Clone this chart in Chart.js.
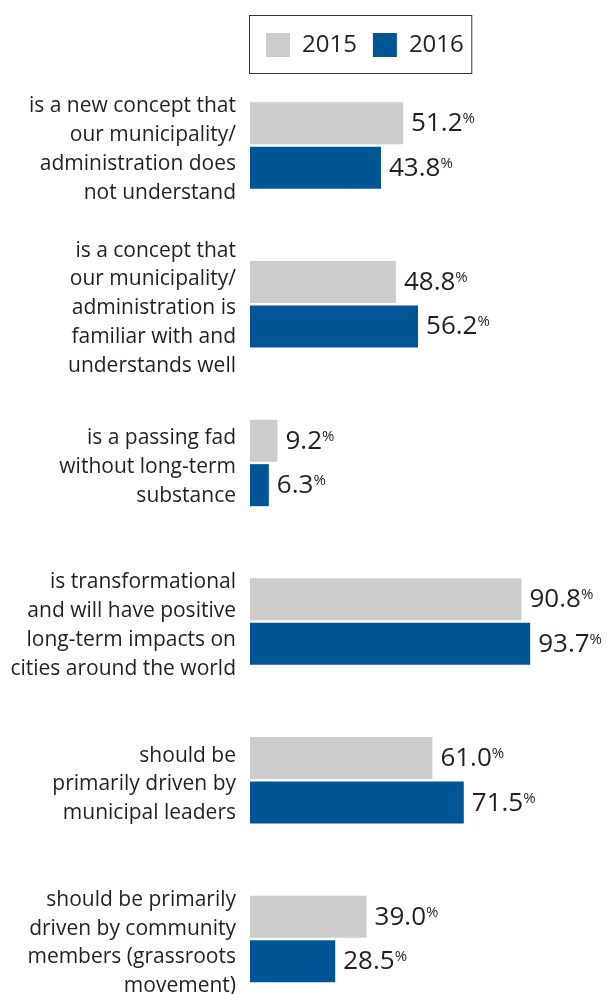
<!DOCTYPE html>
<html>
<head>
<meta charset="utf-8">
<script src="https://cdn.jsdelivr.net/npm/chart.js@4"></script>
<style>
  html, body { margin: 0; padding: 0; background: #fff; }
  #wrap { width: 607px; height: 994px; }
</style>
</head>
<body>
<div id="wrap"><canvas id="smartChart" width="607" height="994"></canvas></div>
<script>
const categories = [
    ['is a new concept that', 'our municipality/', 'administration does', 'not understand'],
    ['is a concept that', 'our municipality/', 'administration is', 'familiar with and', 'understands well'],
    ['is a passing fad', 'without long-term', 'substance'],
    ['is transformational', 'and will have positive', 'long-term impacts on', 'cities around the world'],
    ['should be', 'primarily driven by', 'municipal leaders'],
    ['should be primarily', 'driven by community', 'members (grassroots', 'movement)']
];
const seriesNames = ['2015', '2016'];
const values2015 = [51.2, 48.8, 9.2, 90.8, 61.0, 39.0];
const values2016 = [43.8, 56.2, 6.3, 93.7, 71.5, 28.5];

const FONT = "'Open Sans', 'Noto Sans', sans-serif";
const TEXT = '#231f20';

// value labels with a small superscript %
const valueLabels = {
    id: 'valueLabels',
    afterDatasetsDraw(chart) {
        const ctx = chart.ctx;
        ctx.save();
        chart.data.datasets.forEach((ds, di) => {
            const meta = chart.getDatasetMeta(di);
            meta.data.forEach((bar, i) => {
                const txt = ds.data[i].toFixed(1);
                const x = bar.x + 8;
                const y = bar.y;
                ctx.fillStyle = TEXT;
                ctx.textAlign = 'left';
                ctx.textBaseline = 'alphabetic';
                ctx.font = '26px ' + FONT;
                ctx.fillText(txt, x, y + 8);
                const w = ctx.measureText(txt).width;
                ctx.font = '15px ' + FONT;
                ctx.fillText('%', x + w, y);
            });
        });
        ctx.restore();
    }
};

// thin frame round the legend
const legendFrame = {
    id: 'legendFrame',
    afterDraw(chart) {
        const lg = chart.legend;
        if (!lg || !lg.legendHitBoxes.length) return;
        const boxes = lg.legendHitBoxes;
        const last = boxes[boxes.length - 1];
        const ctx = chart.ctx;
        ctx.save();
        ctx.strokeStyle = '#333';
        ctx.lineWidth = 1;
        const left = lg.left - 0.5;
        const top = boxes[0].top - 18;
        const right = last.left + last.width + 8;
        const bottom = boxes[0].top + boxes[0].height + 16;
        ctx.strokeRect(left, Math.round(top) + 0.5, right - left, bottom - top);
        ctx.restore();
    }
};

const ctx = document.getElementById('smartChart').getContext('2d');
new Chart(ctx, {
    type: 'bar',
    data: {
        labels: categories,
        datasets: [{
            label: seriesNames[0],
            data: values2015,
            backgroundColor: '#cbcccb',
            categoryPercentage: 0.561,
            barPercentage: 0.944,
            clip: false
        }, {
            label: seriesNames[1],
            data: values2016,
            backgroundColor: '#005595',
            categoryPercentage: 0.561,
            barPercentage: 0.944,
            clip: false
        }]
    },
    options: {
        indexAxis: 'y',
        responsive: false,
        animation: false,
        events: [],
        layout: { padding: { top: 17, right: 58, bottom: 55, left: 0 } },
        plugins: {
            legend: {
                position: 'top',
                align: 'start',
                fullSize: false,
                labels: {
                    boxWidth: 24,
                    boxHeight: 24,
                    padding: 16,
                    color: TEXT,
                    font: { family: FONT, size: 24 }
                }
            },
            tooltip: { enabled: false }
        },
        scales: {
            x: {
                position: 'top',
                min: 0,
                max: 100,
                grid: { display: false },
                border: { display: false },
                ticks: { display: false },
                afterFit: s => { s.height = 78.5; }
            },
            y: {
                offset: false,
                grid: { display: false, drawTicks: false },
                border: { display: false },
                ticks: {
                    padding: 14,
                    labelOffset: 4,
                    color: TEXT,
                    font: { family: FONT, size: 21, lineHeight: 1.37 }
                },
                afterFit: s => {
                    s.width = 250;
                    s.paddingTop = 0;
                    s.paddingBottom = 0;
                }
            }
        }
    },
    plugins: [valueLabels, legendFrame]
});
</script>
</body>
</html>
